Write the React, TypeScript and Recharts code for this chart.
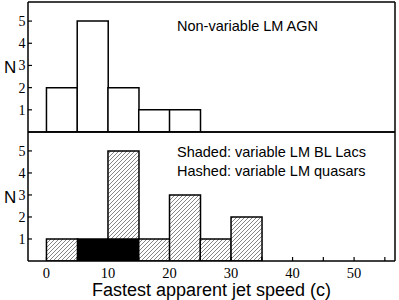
import { Bar, ComposedChart, XAxis, YAxis } from 'recharts';

// histogram bins, 5c wide, plotted at their centres
const binCenters = [2.5, 7.5, 12.5, 17.5, 22.5, 27.5, 32.5];
const nonVariableAgn = [2, 5, 2, 1, 1, 0, 0];
const variableBlLacs = [0, 1, 1, 0, 0, 0, 0];
const variableQuasars = [1, 0, 4, 1, 3, 1, 2];

const speedTicks = [0, 5, 10, 15, 20, 25, 30, 35, 40, 45, 50, 55];
const countTicks = [1, 2, 3, 4, 5];

const topData = binCenters.map((x, i) => ({ x, agn: nonVariableAgn[i] }));
const bottomData = binCenters.map((x, i) => ({
  x,
  bllac: variableBlLacs[i],
  quasar: variableQuasars[i],
}));

const xDomain: [number, number] = [-3, 56.65];
const yDomain: [number, number] = [0, 5.86];

const frame = { stroke: '#000', strokeWidth: 1.5 };
const tickMark = { stroke: '#000', strokeWidth: 1.2 };
const serifTick = { fill: '#000', fontSize: 14, fontFamily: 'Liberation Serif' };
const sans = 'Liberation Sans';
const nLabel = {
  value: 'N',
  position: 'insideLeft' as const,
  offset: 4,
  fill: '#000',
  fontSize: 17,
  fontFamily: sans,
};

// every panel is boxed, with inward ticks on all four sides
function FrameAxes({ labelled }: { labelled: boolean }) {
  return (
    <>
      <XAxis
        dataKey="x"
        type="number"
        domain={xDomain}
        ticks={speedTicks}
        allowDataOverflow
        height={labelled ? 39 : 1}
        tickSize={-4}
        tickMargin={11}
        tick={labelled ? { fill: '#000', fontSize: 14.5, fontFamily: 'Liberation Serif' } : false}
        tickFormatter={(v) => (v % 10 === 0 ? String(v) : '')}
        axisLine={frame}
        tickLine={tickMark}
        label={
          labelled
            ? {
                value: 'Fastest apparent jet speed (c)',
                position: 'insideBottom',
                offset: 4,
                fill: '#000',
                fontSize: 18,
                fontFamily: sans,
              }
            : undefined
        }
      />
      <XAxis
        xAxisId="top"
        orientation="top"
        dataKey="x"
        type="number"
        domain={xDomain}
        ticks={speedTicks}
        allowDataOverflow
        height={1}
        tickSize={-4}
        tick={false}
        axisLine={frame}
        tickLine={tickMark}
      />
      <YAxis
        type="number"
        domain={yDomain}
        ticks={countTicks}
        allowDataOverflow
        width={28}
        tickSize={-4}
        tickMargin={6.5}
        tick={serifTick}
        axisLine={frame}
        tickLine={tickMark}
        label={nLabel}
      />
      <YAxis
        yAxisId="right"
        orientation="right"
        type="number"
        domain={yDomain}
        ticks={countTicks}
        allowDataOverflow
        width={1}
        tickSize={-4}
        tick={false}
        axisLine={frame}
        tickLine={tickMark}
      />
    </>
  );
}

export default function App() {
  return (
    <div style={{ position: 'absolute', left: 0, top: 0, width: 399, height: 300, background: '#fff' }}>
      <div style={{ position: 'absolute', left: 0, top: 0 }}>
        <ComposedChart
          width={399}
          height={134}
          data={topData}
          margin={{ top: 1, right: 3, bottom: 1, left: 0 }}
          barCategoryGap={0}
          barGap={0}
        >
          {FrameAxes({ labelled: false })}
          <Bar dataKey="agn" fill="#fff" stroke="#000" strokeWidth={1.5} isAnimationActive={false} />
          <text x={177} y={30.7} fontSize={14.5} fontFamily={sans} fill="#000">
            Non-variable LM AGN
          </text>
        </ComposedChart>
      </div>
      <div style={{ position: 'absolute', left: 0, top: 130 }}>
        <ComposedChart
          width={399}
          height={170}
          data={bottomData}
          margin={{ top: 1, right: 3, bottom: 0, left: 0 }}
          barCategoryGap={0}
          barGap={0}
        >
          <defs>
            <pattern id="hash" patternUnits="userSpaceOnUse" width={4} height={4}>
              <rect width={4} height={4} fill="#fff" />
              <path d="M-1,1 l2,-2 M0,4 l4,-4 M3,5 l2,-2" stroke="#666" strokeWidth={0.8} />
            </pattern>
          </defs>
          {FrameAxes({ labelled: true })}
          <Bar dataKey="bllac" stackId="s" fill="#000" stroke="#000" strokeWidth={1.5} isAnimationActive={false} />
          <Bar dataKey="quasar" stackId="s" fill="url(#hash)" stroke="#000" strokeWidth={1.5} isAnimationActive={false} />
          <text x={177} y={27} fontSize={14.5} fontFamily={sans} fill="#000">
            Shaded: variable LM BL Lacs
          </text>
          <text x={177} y={45.5} fontSize={14.5} fontFamily={sans} fill="#000">
            Hashed: variable LM quasars
          </text>
        </ComposedChart>
      </div>
    </div>
  );
}
